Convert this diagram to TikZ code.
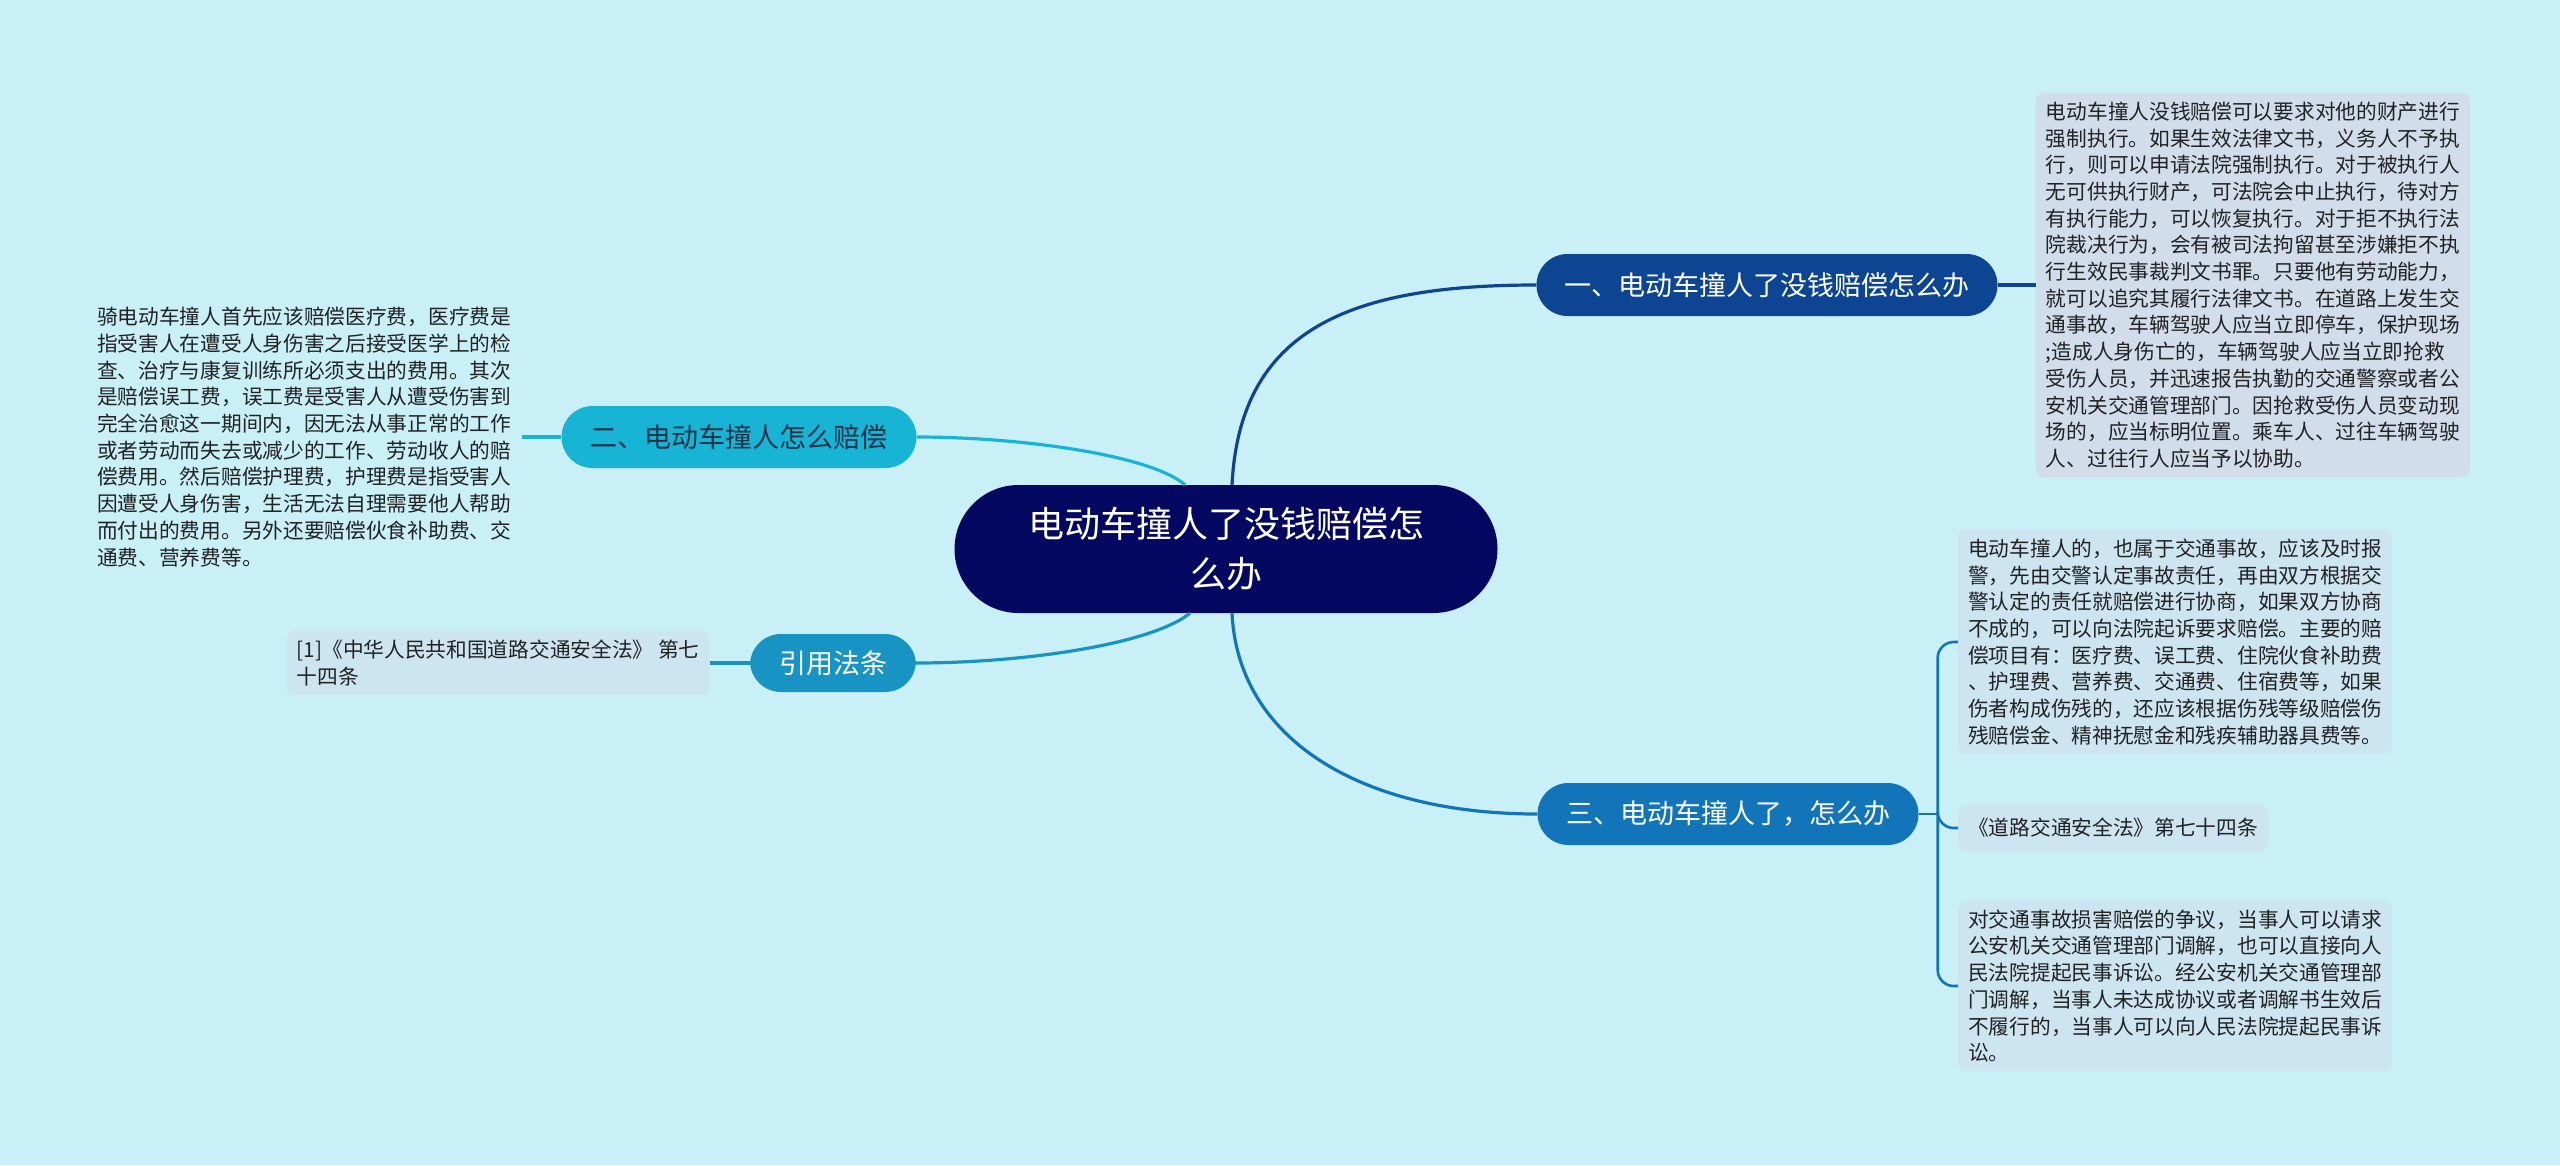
\documentclass[tikz,border=0pt]{standalone}
\usepackage{fontspec}
\setmainfont{Noto Sans CJK SC}
\usepackage{xcolor}
\usetikzlibrary{positioning}

\definecolor{bgcol}{RGB}{201,239,247}
\definecolor{rootcol}{RGB}{5,8,96}
\definecolor{onecol}{RGB}{14,69,146}
\definecolor{twocol}{RGB}{24,180,214}
\definecolor{twotext}{RGB}{30,50,70}
\definecolor{refcol}{RGB}{24,148,196}
\definecolor{threecol}{RGB}{18,117,185}
\definecolor{leafgrey}{RGB}{209,221,234}
\definecolor{leafblue}{RGB}{205,229,240}
\definecolor{leaftext}{RGB}{34,34,34}

\begin{document}
\begin{tikzpicture}[
  x=1pt, y=-1pt,
  root/.style={rectangle, rounded corners=64pt, fill=rootcol, text=white, align=center,
    minimum width=543pt, minimum height=128pt, font=\fontsize{36}{50}\selectfont},
  topic/.style={rectangle, rounded corners=31pt, align=center, text=white,
    minimum height=62pt, font=\fontsize{27}{32}\selectfont},
  leaf/.style={rectangle, rounded corners=8pt, align=left, text=leaftext,
    inner xsep=10pt, inner ysep=9pt, font=\fontsize{20.7}{26.7}\selectfont},
  link/.style={line width=3.2pt},
  twig/.style={line width=2.6pt, draw=threecol, rounded corners=16pt}
]
\fill[bgcol] (0,0) rectangle (2560,1165);

% centre and main topics
\node[root] (root) at (1226,549) {电动车撞人了没钱赔偿怎\\么办};
\node[topic, fill=onecol, minimum width=461pt] (one) at (1767,285) {一、电动车撞人了没钱赔偿怎么办};
\node[topic, fill=twocol, text=twotext, minimum width=355pt] (two) at (739,437) {二、电动车撞人怎么赔偿};
\node[topic, fill=refcol, minimum width=166pt, minimum height=58pt] (cite) at (833,663) {引用法条};
\node[topic, fill=threecol, minimum width=381pt] (three) at (1728,814) {三、电动车撞人了，怎么办};

% leaves
\node[leaf, fill=leafgrey, right=38pt of one] (oneleaf) {电动车撞人没钱赔偿可以要求对他的财产进行\\
强制执行。如果生效法律文书，义务人不予执\\
行，则可以申请法院强制执行。对于被执行人\\
无可供执行财产，可法院会中止执行，待对方\\
有执行能力，可以恢复执行。对于拒不执行法\\
院裁决行为，会有被司法拘留甚至涉嫌拒不执\\
行生效民事裁判文书罪。只要他有劳动能力，\\
就可以追究其履行法律文书。在道路上发生交\\
通事故，车辆驾驶人应当立即停车，保护现场\\
;造成人身伤亡的，车辆驾驶人应当立即抢救\\
受伤人员，并迅速报告执勤的交通警察或者公\\
安机关交通管理部门。因抢救受伤人员变动现\\
场的，应当标明位置。乘车人、过往车辆驾驶\\
人、过往行人应当予以协助。};
\node[leaf, left=39pt of two, inner xsep=11pt] (twoleaf) {骑电动车撞人首先应该赔偿医疗费，医疗费是\\
指受害人在遭受人身伤害之后接受医学上的检\\
查、治疗与康复训练所必须支出的费用。其次\\
是赔偿误工费，误工费是受害人从遭受伤害到\\
完全治愈这一期间内，因无法从事正常的工作\\
或者劳动而失去或减少的工作、劳动收人的赔\\
偿费用。然后赔偿护理费，护理费是指受害人\\
因遭受人身伤害，生活无法自理需要他人帮助\\
而付出的费用。另外还要赔偿伙食补助费、交\\
通费、营养费等。};
\node[leaf, fill=leafblue, left=40pt of cite] (citeleaf) {[1]《中华人民共和国道路交通安全法》 第七\\
十四条};
\node[leaf, fill=leafblue, anchor=west] (threea) at (1958,642) {电动车撞人的，也属于交通事故，应该及时报\\
警，先由交警认定事故责任，再由双方根据交\\
警认定的责任就赔偿进行协商，如果双方协商\\
不成的，可以向法院起诉要求赔偿。主要的赔\\
偿项目有：医疗费、误工费、住院伙食补助费\\
、护理费、营养费、交通费、住宿费等，如果\\
伤者构成伤残的，还应该根据伤残等级赔偿伤\\
残赔偿金、精神抚慰金和残疾辅助器具费等。};
\node[leaf, fill=leafblue, anchor=west, minimum height=47pt] (threeb) at (1958,828) {《道路交通安全法》第七十四条};
\node[leaf, fill=leafblue, anchor=west] (threec) at (1958,986) {对交通事故损害赔偿的争议，当事人可以请求\\
公安机关交通管理部门调解，也可以直接向人\\
民法院提起民事诉讼。经公安机关交通管理部\\
门调解，当事人未达成协议或者调解书生效后\\
不履行的，当事人可以向人民法院提起民事诉\\
讼。};

% connectors
\draw[link, onecol] ([xshift=6pt]root.north) .. controls +(8,-155) and +(-188,0) .. (one.west);
\draw[link, twocol] ([xshift=-41pt]root.north) .. controls +(-35,-30) and +(103,0) .. (two.east);
\draw[link, refcol] ([xshift=-36pt]root.south) .. controls +(-40,32) and +(104,0) .. (cite.east);
\draw[link, threecol] ([xshift=6pt]root.south) .. controls +(6,126) and +(-177,0) .. (three.west);

\draw[link, onecol] (one.east) -- (oneleaf.west);
\draw[link, twocol] (two.west) -- (twoleaf.east);
\draw[link, refcol] (cite.west) -- (citeleaf.east);
\coordinate (hub) at ([xshift=19pt]three.east);
\draw[twig] (three.east) -- (hub);
\draw[twig] (hub) |- (threea.west);
\draw[twig] (hub) |- (threeb.west);
\draw[twig] (hub) |- (threec.west);
\end{tikzpicture}
\end{document}
